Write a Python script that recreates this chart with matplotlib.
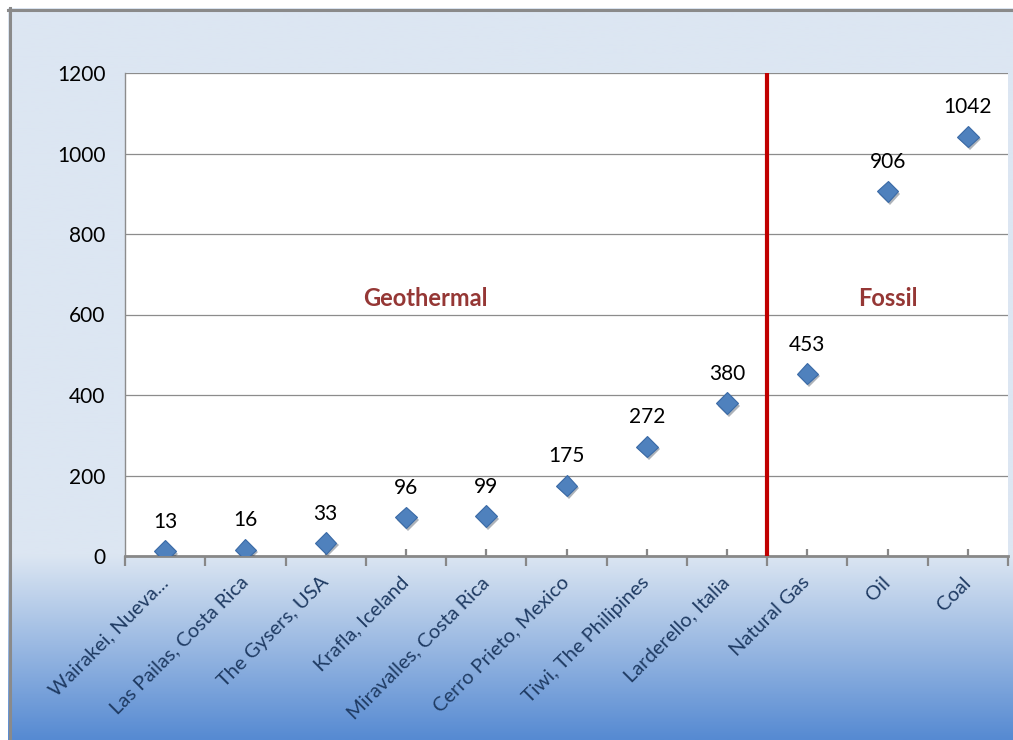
import matplotlib.pyplot as plt
import matplotlib.patheffects as pe
import matplotlib.transforms as mtransforms
import numpy as np
from matplotlib.colors import LinearSegmentedColormap
from matplotlib.lines import Line2D

plt.rcParams["font.family"] = ["Lato", "DejaVu Sans"]

sites = [
    "Wairakei, Nueva...",
    "Las Pailas, Costa Rica",
    "The Gysers, USA",
    "Krafla, Iceland",
    "Miravalles, Costa Rica",
    "Cerro Prieto, Mexico",
    "Tiwi, The Philipines",
    "Larderello, Italia",
    "Natural Gas",
    "Oil",
    "Coal",
]
emissions = [13, 16, 33, 96, 99, 175, 272, 380, 453, 906, 1042]
y_ticks = [0, 200, 400, 600, 800, 1000, 1200]
n_geo = 8  # first 8 are geothermal plants

W, H = 1013, 740
fig = plt.figure(figsize=(W / 100, H / 100), dpi=100)
fig.patch.set_facecolor("white")

# background panel with a vertical gradient at the bottom
bg = fig.add_axes([8 / W, 0, 1 - 8 / W, 1 - 8 / H], zorder=0)
bg.set_axis_off()
rows = np.linspace(0, 1, 400)[:, None]  # 0 = bottom, 1 = top
split = (740 - 555) / 732
frac = np.clip(rows / split, 0, 1)
cmap = LinearSegmentedColormap.from_list("bgblue", ["#568AD2", "#DCE6F2"])
bg.imshow(cmap(frac)[::-1], aspect="auto", extent=[0, 1, 0, 1])
bg.set_xlim(0, 1)
bg.set_ylim(0, 1)

# grey frame on the top and left
fig.add_artist(Line2D([8 / W, 1], [1 - 9.5 / H, 1 - 9.5 / H], color="#8A8A8A", lw=2.2))
fig.add_artist(Line2D([9.5 / W, 9.5 / W], [0, 1 - 8 / H], color="#8A8A8A", lw=2.2))

ax = fig.add_axes([125 / W, 1 - 556 / H, (1008 - 125) / W, (556 - 73) / H], zorder=2)
ax.set_facecolor("white")

x = np.arange(len(sites))
ax.set_xlim(-0.5, len(sites) - 0.5)
ax.set_ylim(0, 1200)
ax.set_yticks(y_ticks)
ax.set_yticklabels([str(v) for v in y_ticks], fontsize=15, color="black")
ax.tick_params(axis="y", length=0, pad=14)
ax.yaxis.grid(True, color="#8C8C8C", lw=0.9)
ax.set_axisbelow(True)

ax.set_xticks(x)
ax.set_xticklabels(sites, rotation=45, ha="right", va="center",
                   rotation_mode="anchor", fontsize=14.5, color="#1F3B63")
shift = mtransforms.ScaledTranslation(7 / 100, 0, fig.dpi_scale_trans)
for lab in ax.get_xticklabels():
    lab.set_transform(lab.get_transform() + shift)
ax.set_xticks(np.arange(len(sites) + 1) - 0.5, minor=True)
ax.tick_params(axis="x", which="major", direction="in", length=5, width=1.6,
               color="#888888", pad=17)
ax.tick_params(axis="x", which="minor", direction="out", length=7, width=1.6,
               color="#888888")

for side in ["top", "right"]:
    ax.spines[side].set_visible(False)
ax.spines["left"].set_color("#8C8C8C")
ax.spines["left"].set_linewidth(1)
ax.spines["bottom"].set_color("#888888")
ax.spines["bottom"].set_linewidth(2)

# divider between geothermal and fossil
ax.plot([n_geo - 0.5, n_geo - 0.5], [0, 1200], color="#C00000", lw=3,
        solid_capstyle="butt", zorder=3)

ax.plot(x, emissions, ls="none", marker="D", ms=11, mfc="#4F81BD",
        mec="#3A6AA6", mew=0.8, zorder=4,
        path_effects=[pe.SimplePatchShadow(offset=(1.5, -2), alpha=0.35),
                      pe.Normal()])

for xi, v in zip(x, emissions):
    ax.annotate(str(v), (xi, v), xytext=(0, 21), textcoords="offset points",
                ha="center", va="center", fontsize=15, color="black", zorder=5)

ax.text(3.24, 640, "Geothermal", ha="center", va="center", fontsize=17,
        fontweight="bold", color="#953735")
ax.text(9.0, 640, "Fossil", ha="center", va="center", fontsize=17,
        fontweight="bold", color="#953735")

fig.savefig("out.png", dpi=100)
